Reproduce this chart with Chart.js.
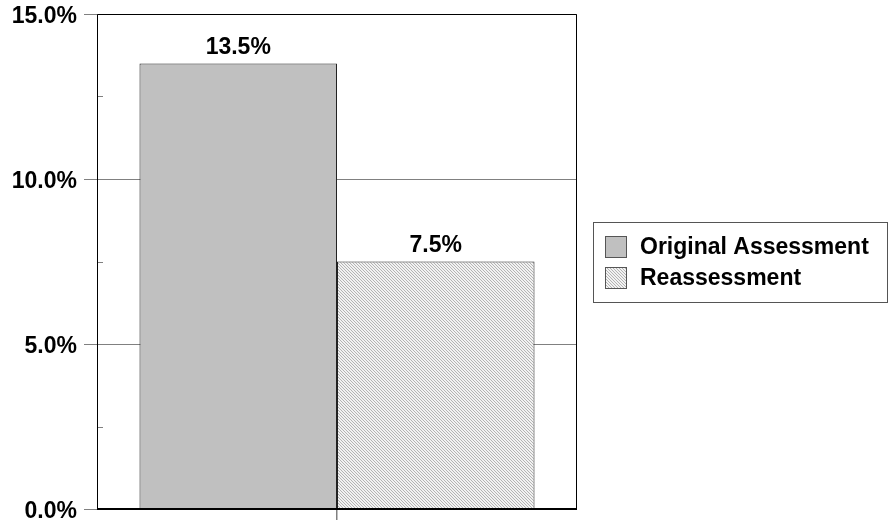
<!DOCTYPE html>
<html>
<head>
<meta charset="utf-8">
<script src="https://cdn.jsdelivr.net/npm/chart.js@4/dist/chart.umd.min.js"></script>
<style>
  html, body { margin: 0; padding: 0; background: #fff; }
  #wrap { width: 888px; height: 522px; }
</style>
</head>
<body>
<div id="wrap"><canvas id="chart" width="888" height="522"></canvas></div>
<script>
const categories = ["Assessment"];
const seriesNames = ["Original Assessment", "Reassessment"];
const originalValues = [13.5];
const reassessValues = [7.5];
const yTicks = [0, 5, 10, 15];

const FONT = "'Liberation Sans', Arial, sans-serif";
Chart.defaults.font.family = FONT;
Chart.defaults.font.size = 23;
Chart.defaults.font.weight = "bold";
Chart.defaults.color = "#000";

// fine diagonal hatch for the second series
function makeHatch() {
  const c = document.createElement("canvas");
  c.width = 3; c.height = 3;
  const g = c.getContext("2d");
  g.fillStyle = "#f2f2f2";
  g.fillRect(0, 0, 3, 3);
  g.fillStyle = "#b4b4b4";
  for (let i = 0; i < 3; i++) g.fillRect(i, i, 1, 1);
  return g.createPattern(c, "repeat");
}
const hatch = makeHatch();

const labelPlugin = {
  id: "barLabels",
  afterDatasetsDraw(chart) {
    const ctx = chart.ctx;
    ctx.save();
    ctx.font = "bold 23px " + FONT;
    ctx.fillStyle = "#000";
    ctx.textAlign = "center";
    ctx.textBaseline = "middle";
    chart.data.datasets.forEach((ds, i) => {
      chart.getDatasetMeta(i).data.forEach((bar, j) => {
        ctx.fillText(ds.data[j].toFixed(1) + "%", bar.x, bar.y - 16);
      });
    });
    ctx.restore();
  }
};

const framePlugin = {
  id: "frame",
  afterDatasetsDraw(chart) {
    const { ctx, chartArea: a } = chart;
    const y = chart.scales.y;
    ctx.save();
    // minor ticks on the inside of the left axis
    ctx.strokeStyle = "#808080";
    ctx.lineWidth = 1;
    y.ticks.forEach(t => {
      if (t.value % 5 !== 0) {
        const py = Math.round(y.getPixelForValue(t.value)) + 0.5;
        ctx.beginPath();
        ctx.moveTo(a.left, py);
        ctx.lineTo(a.left + 6, py);
        ctx.stroke();
      }
    });
    ctx.strokeStyle = "#000";
    ctx.beginPath();
    ctx.moveTo(a.left + 0.5, a.bottom);
    ctx.lineTo(a.left + 0.5, a.top + 0.5);
    ctx.lineTo(a.right - 0.5, a.top + 0.5);
    ctx.lineTo(a.right - 0.5, a.bottom);
    ctx.stroke();
    ctx.lineWidth = 2;
    ctx.beginPath();
    ctx.moveTo(a.left, a.bottom);
    ctx.lineTo(a.right, a.bottom);
    ctx.stroke();
    ctx.restore();
  }
};

// boxed legend to the right of the plot
const legendPlugin = {
  id: "boxLegend",
  afterDraw(chart) {
    const { ctx, chartArea: a } = chart;
    const x0 = a.right + 16, w = chart.width - 1 - x0;
    const rowH = 31, h = 80;
    const y0 = Math.round((a.top + a.bottom) / 2 - h / 2);
    ctx.save();
    ctx.strokeStyle = "#555";
    ctx.lineWidth = 1;
    ctx.strokeRect(x0 + 0.5, y0 + 0.5, w, h);
    ctx.font = "bold 23px " + FONT;
    ctx.textBaseline = "middle";
    ctx.textAlign = "left";
    chart.data.datasets.forEach((ds, i) => {
      const by = y0 + 14 + i * rowH;
      ctx.fillStyle = ds.backgroundColor;
      ctx.fillRect(x0 + 12, by, 22, 22);
      ctx.strokeStyle = "#555";
      ctx.strokeRect(x0 + 12.5, by + 0.5, 21, 21);
      ctx.fillStyle = "#000";
      ctx.fillText(ds.label, x0 + 47, by + 12);
    });
    ctx.restore();
  }
};

new Chart(document.getElementById("chart"), {
  type: "bar",
  data: {
    labels: categories,
    datasets: [
      { label: seriesNames[0], data: originalValues, backgroundColor: "#c0c0c0", borderColor: "#222", borderWidth: 1 },
      { label: seriesNames[1], data: reassessValues, backgroundColor: hatch, borderColor: "#222", borderWidth: 1 }
    ]
  },
  options: {
    responsive: false,
    animation: false,
    layout: { padding: { top: 14, bottom: 2, left: 0, right: 311 } },
    categoryPercentage: 0.823,
    barPercentage: 1,
    plugins: {
      legend: { display: false },
      tooltip: { enabled: false }
    },
    scales: {
      x: {
        grid: { offset: false, drawOnChartArea: false, color: "#808080", tickLength: 11, lineWidth: 1.5 },
        border: { display: false },
        ticks: { display: false }
      },
      y: {
        min: yTicks[0],
        max: yTicks[yTicks.length - 1],
        afterFit(s) { s.width = 97; s.paddingTop = 0; s.paddingBottom = 0; },
        ticks: {
          stepSize: 2.5,
          padding: 7,
          labelOffset: 3,
          callback: v => (v % 5 === 0 ? v.toFixed(1) + "%" : "")
        },
        grid: {
          color: c => (c.tick && c.tick.value % 5 !== 0 ? "rgba(0,0,0,0)" : "#808080"),
          tickLength: 13
        },
        border: { display: false }
      }
    }
  },
  plugins: [labelPlugin, framePlugin, legendPlugin]
});
</script>
</body>
</html>
